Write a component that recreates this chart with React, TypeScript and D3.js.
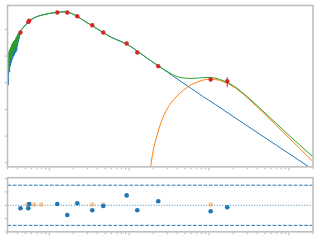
import React from 'react';
import * as d3 from 'd3';

// wavelength (micron) / flux density samples
const noiseWave = [0.300, 0.304, 0.308, 0.311, 0.315, 0.3185, 0.322, 0.326, 0.330, 0.334, 0.3375, 0.3415, 0.345, 0.349, 0.3535, 0.358, 0.362, 0.366, 0.370, 0.3745, 0.379, 0.383, 0.388, 0.392, 0.397, 0.401, 0.406, 0.411, 0.415, 0.420, 0.425, 0.430, 0.437];
const stellarNoise = [1053, 8340, 813, 7020, 14000, 2495, 16630, 4188, 19770, 5420, 23480, 7020, 27900, 8340, 30410, 9910, 36150, 10810, 39440, 12850, 42950, 14000, 51050, 16630, 55630, 23480, 66070, 33180, 72060, 42950, 78550, 60640, 85640];
const totalNoise = [4970, 11780, 2965, 9090, 15270, 4970, 18130, 7020, 21540, 8340, 25590, 10810, 30410, 12850, 33180, 15270, 36150, 16630, 39440, 19770, 46800, 21540, 51050, 25590, 58080, 33180, 66070, 42950, 72060, 51050, 78550, 66070, 85640];

const smoothWave = [0.45, 0.5, 0.55, 0.6, 0.7, 0.8, 0.9, 1.0, 1.2, 1.4, 1.6, 1.8, 2.0, 2.3, 2.6, 3.0, 3.5, 4.0, 4.7, 6, 8, 10, 13, 17, 22, 25, 30, 35, 45, 60, 70, 85, 100, 120, 150, 200, 300, 500, 700, 1000, 1500, 2000];
const stellarSmooth = [97500, 143600, 186200, 237100, 301400, 340400, 370900, 394300, 429500, 448600, 456000, 422000, 370900, 291200, 230700, 175100, 134000, 103500, 77200, 50120, 34600, 24950, 14360, 8130, 4760, 3680, 2537, 1813, 1090, 606, 444, 296, 219, 152.6, 97.5, 54.7, 24.3, 8.79, 4.48, 2.21, 0.983, 0.556];
const totalSmooth = [97500, 143600, 186200, 237100, 301400, 340400, 370900, 394300, 429500, 448600, 456000, 422000, 370900, 291200, 230700, 175100, 134000, 103500, 77200, 50120, 34600, 24950, 14360, 8130, 4769, 3712, 2644, 2023, 1542, 1455, 1479, 1558, 1583, 1483, 1197, 781, 301, 74.3, 29.0, 10.77, 3.58, 1.665];

const dustWave = [18, 19, 20, 22, 25, 30, 35, 45, 60, 70, 85, 100, 120, 150, 200, 300, 500, 700, 1000, 1500, 2000];
const dustFlux = [0.346, 1.158, 2.864, 9.17, 32.0, 107.2, 209.9, 452, 849, 1035, 1262, 1364, 1330, 1099, 726, 276.7, 65.5, 24.5, 8.56, 2.60, 1.109];

const obsWave = [0.436, 0.546, 0.562, 1.259, 1.680, 2.241, 3.452, 4.741, 9.30, 12.63, 23.13, 104.7, 169.0];
const obsFlux = [76600, 191000, 211800, 429500, 429500, 311900, 143600, 76600, 29650, 13650, 4190, 1330, 1148];
const obsErr = [2300, 5700, 6400, 12900, 12900, 9400, 4300, 2300, 900, 410, 130, 70, 470];
const residObs = [-0.22, -0.22, 0.10, 0.10, -0.72, 0.15, -0.37, -0.05, 0.74, -0.37, 0.30, -0.44, -0.15];

const limitWave = [0.530, 0.649, 0.794, 3.452, 4.741, 104.7];
const limitResid = [0.05, 0.05, 0.05, 0.05, 0.05, 0.05];

const yTickExp = [0, 1, 2, 3, 4, 5];
const residTicks = [-2, -1, 0, 1, 2];
const residBand = 1.5;

const mainL = 7.5, mainR = 313, mainT = 5.5, mainB = 166.8;
const resT = 177.7, resB = 231.8;

const x = d3.scaleLog().domain([0.3, 2000]).range([mainL, mainR]);
const y = d3.scaleLog().domain([Math.pow(10, -0.15), Math.pow(10, 5.895)]).range([mainB, mainT]);
const yr = d3.scaleLinear().domain([-1.98, 2.06]).range([resB, resT]);

const BLUE = '#1f77b4', ORANGE = '#ff7f0e', GREEN = '#2ca02c', RED = '#d62728';
const SPINE = '#bfbfbf', TICK = '#b3b3b3';

export default function App() {
  const line = d3.line<[number, number]>()
    .x(d => x(d[0]))
    .y(d => y(d[1]))
    .curve(d3.curveMonotoneX);

  const stellarPts: [number, number][] = [
    ...noiseWave.map((w, i) => [w, stellarNoise[i]] as [number, number]),
    ...smoothWave.map((w, i) => [w, stellarSmooth[i]] as [number, number]),
  ];
  const totalPts: [number, number][] = [
    ...noiseWave.map((w, i) => [w, totalNoise[i]] as [number, number]),
    ...smoothWave.map((w, i) => [w, totalSmooth[i]] as [number, number]),
  ];
  const dustPts: [number, number][] = dustWave.map((w, i) => [w, dustFlux[i]]);

  const xt = x.ticks();
  const isMajor = (v: number) => Math.abs(Math.log10(v) - Math.round(Math.log10(v))) < 1e-6;

  const xTicks = (yb: number, key: string) =>
    xt.map((v, i) => {
      const px = x(v);
      if (px < mainL - 0.5 || px > mainR + 0.5) return null;
      const len = isMajor(v) ? 2.8 : 1.6;
      return <line key={key + i} x1={px} x2={px} y1={yb + 0.8} y2={yb + 0.8 + len} stroke={TICK} strokeWidth={1} />;
    });

  return (
    <svg width={320} height={240} style={{ position: 'absolute', left: 0, top: 0, background: '#fff' }}>
      <defs>
        <clipPath id="mainClip">
          <rect x={mainL} y={mainT} width={mainR - mainL} height={mainB - mainT} />
        </clipPath>
        <clipPath id="resClip">
          <rect x={mainL} y={resT} width={mainR - mainL} height={resB - resT} />
        </clipPath>
      </defs>
      <rect x={0} y={0} width={320} height={240} fill="#fff" />

      {/* main panel */}
      <g clipPath="url(#mainClip)">
        <path d={line(stellarPts) || ''} fill="none" stroke={BLUE} strokeWidth={1} />
        <path d={line(dustPts) || ''} fill="none" stroke={ORANGE} strokeWidth={1} />
        <path d={line(totalPts) || ''} fill="none" stroke={GREEN} strokeWidth={1} />
      </g>
      <rect x={mainL} y={mainT} width={mainR - mainL} height={mainB - mainT} fill="none" stroke={SPINE} strokeWidth={1.6} />
      {yTickExp.map(e => {
        const py = y(Math.pow(10, e));
        return <line key={'yt' + e} x1={mainL - 0.8} x2={mainL - 2.8} y1={py} y2={py} stroke={TICK} strokeWidth={1} />;
      })}
      {xTicks(mainB, 'mx')}
      <g>
        {obsWave.map((w, i) => (
          <line key={'eb' + i} x1={x(w)} x2={x(w)} y1={y(obsFlux[i] + obsErr[i])} y2={y(Math.max(obsFlux[i] - obsErr[i], 1e-3))} stroke={RED} strokeWidth={1} />
        ))}
        {obsWave.map((w, i) => (
          <circle key={'ob' + i} cx={x(w)} cy={y(obsFlux[i])} r={2.2} fill={RED} />
        ))}
      </g>

      {/* residual panel */}
      <g clipPath="url(#resClip)">
        {[residBand, -residBand].map((v, i) => (
          <line key={'band' + i} x1={mainL} x2={mainR} y1={yr(v)} y2={yr(v)} stroke={BLUE} strokeWidth={1} strokeDasharray="3.7,1.6" />
        ))}
        <line x1={mainL} x2={mainR} y1={yr(0)} y2={yr(0)} stroke={BLUE} strokeOpacity={0.85} strokeWidth={1} strokeDasharray="1,1.65" />
        {limitWave.map((w, i) => (
          <circle key={'lm' + i} cx={x(w)} cy={yr(limitResid[i])} r={2.3} fill={ORANGE} fillOpacity={0.45} />
        ))}
        {obsWave.map((w, i) => (
          <circle key={'rs' + i} cx={x(w)} cy={yr(residObs[i])} r={2.3} fill={BLUE} />
        ))}
      </g>
      <rect x={mainL} y={resT} width={mainR - mainL} height={resB - resT} fill="none" stroke={SPINE} strokeWidth={1.6} />
      {residTicks.map(v => {
        const py = yr(v);
        if (py < resT - 1 || py > resB + 1) return null;
        return <line key={'rt' + v} x1={mainL - 0.8} x2={mainL - 2.8} y1={py} y2={py} stroke={TICK} strokeWidth={1} />;
      })}
      {xTicks(resB, 'rx')}
    </svg>
  );
}
